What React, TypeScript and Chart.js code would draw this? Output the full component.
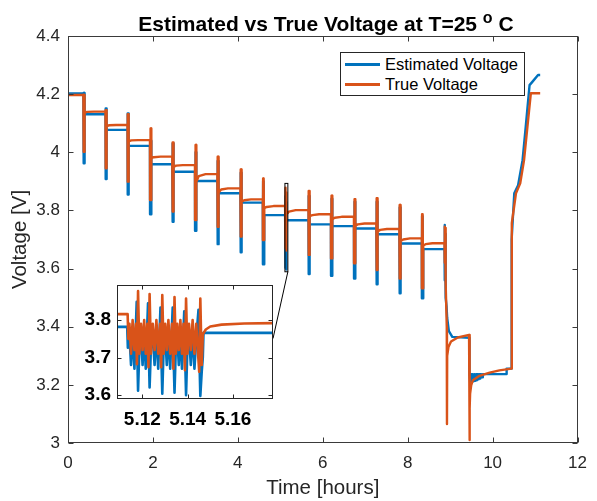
import React, { useEffect, useRef } from "react";
import { Chart, registerables } from "chart.js";

Chart.register(...registerables);

const FONT = '"Liberation Sans", Arial, Helvetica, sans-serif';
const BLUE = "#0072BD";
const ORANGE = "#D95319";
const AXIS = "#262626";

// ---- axes ----
const X_TICKS = [0, 2, 4, 6, 8, 10, 12];
const Y_TICKS = [3, 3.2, 3.4, 3.6, 3.8, 4, 4.2, 4.4];
const INSET_X_TICKS = [5.12, 5.14, 5.16];
const INSET_Y_TICKS = [3.6, 3.7, 3.8];
const INSET_X_RANGE = [5.1088, 5.1777];
const INSET_Y_RANGE = [3.589, 3.893];

// ---- main data (hours, volts) ----
const TRUE_START = 4.197;
const EST_START = 4.202;
const PULSE_START = [0.362, 0.883, 1.402, 1.93, 2.455, 2.99, 3.518, 4.06, 4.588, 5.113, 5.664, 6.192, 6.734, 7.262, 7.804, 8.332];
const TRUE_HIGH = [4.197, 4.145, 4.131, 4.082, 4.034, 4.025, 3.985, 3.941, 3.91, 3.878, 3.867, 3.851, 3.839, 3.842, 3.819, 3.787];
const TRUE_LOW = [4.002, 3.945, 3.899, 3.836, 3.796, 3.767, 3.744, 3.71, 3.698, 3.662, 3.647, 3.635, 3.618, 3.595, 3.566, 3.532];
const EST_HIGH = [4.204, 4.151, 4.134, 4.04, 4.03, 4.0, 3.97, 3.93, 3.9, 3.849, 3.85, 3.84, 3.83, 3.83, 3.81, 3.78];
const EST_LOW = [3.962, 3.908, 3.855, 3.787, 3.761, 3.73, 3.684, 3.656, 3.615, 3.597, 3.581, 3.575, 3.566, 3.546, 3.515, 3.498];
const TRUE_REST_START = [4.137, 4.09, 4.038, 3.98, 3.95, 3.899, 3.862, 3.83, 3.808, 3.774, 3.78, 3.77, 3.748, 3.728, 3.695, 3.678];
const TRUE_REST_MID = [4.139, 4.093, 4.041, 3.983, 3.954, 3.918, 3.872, 3.835, 3.812, 3.796, 3.784, 3.775, 3.752, 3.733, 3.7, 3.684];
const TRUE_REST = [4.14, 4.094, 4.042, 3.985, 3.956, 3.925, 3.876, 3.838, 3.815, 3.801, 3.787, 3.778, 3.755, 3.736, 3.704, 3.687];
const EST_REST = [4.131, 4.077, 4.022, 3.959, 3.933, 3.901, 3.859, 3.827, 3.784, 3.766, 3.752, 3.746, 3.738, 3.718, 3.686, 3.667];

const TAIL_TRUE_T = [8.867, 8.87, 8.876, 8.882, 8.888, 8.894, 8.9, 8.92, 8.925, 8.93, 8.96, 9.02, 9.18, 9.445, 9.456, 9.462, 9.47, 9.495, 9.535, 9.69, 9.93, 10.16, 10.445, 10.452, 10.55, 10.65, 10.74, 10.82, 10.9, 11.12];
const TAIL_TRUE_V = [3.687, 3.744, 3.62, 3.74, 3.6, 3.7, 3.55, 3.4, 3.065, 3.3, 3.33, 3.349, 3.363, 3.372, 3.01, 3.12, 3.17, 3.198, 3.216, 3.231, 3.242, 3.25, 3.256, 3.756, 3.859, 3.893, 3.973, 4.088, 4.203, 4.203];
const TAIL_EST_T = [8.867, 8.87, 8.876, 8.882, 8.888, 8.894, 8.9, 8.915, 8.93, 8.97, 9.05, 9.452, 9.456, 9.47, 9.49, 9.51, 9.53, 9.55, 9.57, 9.59, 9.61, 9.63, 9.65, 9.67, 9.69, 9.71, 9.73, 9.75, 9.77, 10.32, 10.33, 10.445, 10.448, 10.51, 10.6, 10.705, 10.78, 10.87, 10.94, 11.07, 11.12];
const TAIL_EST_V = [3.667, 3.75, 3.56, 3.72, 3.52, 3.66, 3.5, 3.47, 3.43, 3.385, 3.365, 3.362, 3.237, 3.21, 3.237, 3.211, 3.237, 3.212, 3.237, 3.214, 3.237, 3.216, 3.237, 3.219, 3.237, 3.222, 3.237, 3.226, 3.237, 3.237, 3.256, 3.256, 3.7, 3.859, 3.887, 3.973, 4.088, 4.231, 4.243, 4.266, 4.266];

// ---- inset data (pulse at ~5.11-5.15 h) ----
const INSET_TRUE_T = [
  5.1088, 5.1135, 5.1138,
  5.1143, 5.115, 5.1157, 5.1165, 5.1172, 5.1176, 5.1181, 5.1187,
  5.1194, 5.1201, 5.1208, 5.1215, 5.1222, 5.1227, 5.1232, 5.1238,
  5.1246, 5.1254, 5.1262, 5.127, 5.1278, 5.1283, 5.1288, 5.1294,
  5.1301, 5.1308, 5.1315, 5.1323, 5.1331, 5.1337, 5.1342, 5.1348,
  5.1354, 5.1361, 5.1368, 5.1375, 5.1382, 5.1388, 5.1393, 5.1399,
  5.1406, 5.1414, 5.1422, 5.143, 5.1438, 5.1445, 5.1451, 5.1456, 5.1462,
  5.1467, 5.148, 5.15, 5.155, 5.165, 5.1777,
];
const INSET_TRUE_V = [
  3.816, 3.816, 3.75,
  3.79, 3.71, 3.8, 3.72, 3.79, 3.682, 3.878, 3.71,
  3.79, 3.72, 3.8, 3.71, 3.79, 3.674, 3.87, 3.71,
  3.79, 3.72, 3.8, 3.71, 3.79, 3.674, 3.867, 3.71,
  3.79, 3.72, 3.8, 3.71, 3.79, 3.67, 3.862, 3.71,
  3.79, 3.72, 3.8, 3.71, 3.79, 3.666, 3.858, 3.71,
  3.79, 3.72, 3.8, 3.71, 3.79, 3.72, 3.662, 3.858, 3.68,
  3.762, 3.775, 3.783, 3.788, 3.791, 3.792,
];
const INSET_EST_T = [
  5.1088, 5.1133, 5.1136,
  5.1143, 5.115, 5.1157, 5.1165, 5.1175, 5.1178, 5.1181, 5.1187,
  5.1194, 5.1201, 5.1208, 5.1215, 5.1225, 5.1229, 5.1232, 5.1238,
  5.1246, 5.1254, 5.1262, 5.127, 5.128, 5.1284, 5.1288, 5.1294,
  5.1301, 5.1308, 5.1315, 5.1323, 5.1334, 5.1338, 5.1342, 5.1348,
  5.1354, 5.1361, 5.1368, 5.1375, 5.1385, 5.1389, 5.1393, 5.1399,
  5.1406, 5.1414, 5.1422, 5.143, 5.1438, 5.1448, 5.1452, 5.1456, 5.1462,
  5.1467, 5.147, 5.1777,
];
const INSET_EST_V = [
  3.782, 3.782, 3.726,
  3.76, 3.68, 3.77, 3.67, 3.849, 3.7, 3.611, 3.73,
  3.76, 3.68, 3.77, 3.67, 3.845, 3.7, 3.62, 3.73,
  3.76, 3.68, 3.77, 3.67, 3.834, 3.7, 3.603, 3.73,
  3.76, 3.68, 3.77, 3.67, 3.834, 3.7, 3.606, 3.73,
  3.76, 3.68, 3.77, 3.67, 3.824, 3.7, 3.599, 3.73,
  3.76, 3.68, 3.77, 3.67, 3.75, 3.828, 3.7, 3.597, 3.66,
  3.7, 3.766, 3.766,
];

// ---- layout constants ----
const W = 597;
const H = 501;
const MAIN_PAD = { top: 36, right: 13, left: 0, bottom: 0 };
const MAIN_Y_W = 68;
const MAIN_X_H = 58;
const INSET_BOX = { left: 70, top: 268, width: 215, height: 167 };
const INSET_PAD = { top: 10, right: 12, left: 0, bottom: 0 };
const INSET_Y_W = 47;
const INSET_X_H = 36;

const PULSE_STEPS = [0.002, 0.007, 0.012, 0.017, 0.022, 0.027, 0.031];
const PULSE_LEN = 0.034;
const INSET_PULSE = 9;

type P = { x: number; y: number };

function zip(t: number[], v: number[]): P[] {
  return t.map((x, i) => ({ x, y: v[i] }));
}

function buildSeries(isTrue: boolean): P[] {
  const hi = isTrue ? TRUE_HIGH : EST_HIGH;
  const lo = isTrue ? TRUE_LOW : EST_LOW;
  let level = isTrue ? TRUE_START : EST_START;
  const pts: P[] = [{ x: 0, y: level }];
  PULSE_START.forEach((t, i) => {
    pts.push({ x: t, y: level });
    if (i === INSET_PULSE) {
      const T = isTrue ? INSET_TRUE_T : INSET_EST_T;
      const V = isTrue ? INSET_TRUE_V : INSET_EST_V;
      T.forEach((tt, k) => {
        if (tt > t) pts.push({ x: tt, y: V[k] });
      });
    } else {
      PULSE_STEPS.forEach((dt, k) => pts.push({ x: t + dt, y: k % 2 === 0 ? lo[i] : hi[i] }));
      pts.push({ x: t + PULSE_LEN, y: isTrue ? TRUE_REST_START[i] : EST_REST[i] });
    }
    level = isTrue ? TRUE_REST[i] : EST_REST[i];
    if (isTrue) {
      pts.push({ x: t + 0.09, y: TRUE_REST_MID[i] });
      pts.push({ x: t + 0.25, y: level });
    }
  });
  const tail = isTrue ? zip(TAIL_TRUE_T, TAIL_TRUE_V) : zip(TAIL_EST_T, TAIL_EST_V);
  return pts.concat(tail);
}

function framePlugin(xTicks: number[], yTicks: number[], tickLen: number, color: string, extra?: (c: any) => void) {
  return {
    id: "frame",
    afterDatasetsDraw(chart: any) {
      const { ctx, chartArea: a, scales } = chart;
      const xs = scales.x;
      const ys = scales.y;
      ctx.save();
      ctx.strokeStyle = color;
      ctx.lineWidth = 1;
      const L = Math.round(a.left) + 0.5;
      const R = Math.round(a.right) - 0.5;
      const T = Math.round(a.top) + 0.5;
      const B = Math.round(a.bottom) - 0.5;
      ctx.strokeRect(L, T, R - L, B - T);
      ctx.beginPath();
      xTicks.forEach((v) => {
        const px = Math.round(xs.getPixelForValue(v)) + 0.5;
        ctx.moveTo(px, B);
        ctx.lineTo(px, B - tickLen);
        ctx.moveTo(px, T);
        ctx.lineTo(px, T + tickLen);
      });
      yTicks.forEach((v) => {
        const py = Math.round(ys.getPixelForValue(v)) + 0.5;
        ctx.moveTo(L, py);
        ctx.lineTo(L + tickLen, py);
        ctx.moveTo(R, py);
        ctx.lineTo(R - tickLen, py);
      });
      ctx.stroke();
      ctx.restore();
      if (extra) extra(chart);
    },
  };
}

const whiteBg = {
  id: "whiteBg",
  beforeDatasetsDraw(chart: any) {
    const { ctx, chartArea: a } = chart;
    ctx.save();
    ctx.fillStyle = "#fff";
    ctx.fillRect(a.left, a.top, a.right - a.left, a.bottom - a.top);
    ctx.restore();
  },
};

function zoomMarker(chart: any) {
  const { ctx, scales } = chart;
  const x1 = scales.x.getPixelForValue(INSET_X_RANGE[0]);
  const x2 = scales.x.getPixelForValue(INSET_X_RANGE[1]);
  const y1 = scales.y.getPixelForValue(INSET_Y_RANGE[1]);
  const y2 = scales.y.getPixelForValue(INSET_Y_RANGE[0]);
  const insetRight = INSET_BOX.left + INSET_BOX.width - INSET_PAD.right;
  const insetTop = INSET_BOX.top + INSET_PAD.top;
  const insetBottom = INSET_BOX.top + INSET_BOX.height - INSET_X_H;
  ctx.save();
  ctx.strokeStyle = "#000";
  ctx.lineWidth = 1;
  ctx.strokeRect(x1, y1, x2 - x1, y2 - y1);
  ctx.beginPath();
  ctx.moveTo(x2, y2);
  ctx.lineTo(insetRight, (insetTop + insetBottom) / 2);
  ctx.stroke();
  ctx.restore();
}

function lineDataset(label: string, data: P[], color: string, order: number, width: number) {
  return {
    label,
    data,
    borderColor: color,
    backgroundColor: color,
    borderWidth: width,
    pointRadius: 0,
    tension: 0,
    fill: false,
    order,
    borderJoinStyle: "round" as const,
  };
}

export default function App() {
  const mainRef = useRef<HTMLCanvasElement>(null);
  const insetRef = useRef<HTMLCanvasElement>(null);

  useEffect(() => {
    const tickFont = { family: FONT, size: 17 };
    const main = new Chart(mainRef.current!, {
      type: "line",
      data: {
        datasets: [
          lineDataset("Estimated Voltage", buildSeries(false), BLUE, 1, 2.4),
          lineDataset("True Voltage", buildSeries(true), ORANGE, 0, 2.4),
        ],
      },
      options: {
        animation: false,
        responsive: false,
        devicePixelRatio: 1,
        events: [],
        layout: { padding: MAIN_PAD },
        plugins: { legend: { display: false }, tooltip: { enabled: false } },
        scales: {
          x: {
            type: "linear",
            min: 0,
            max: 12,
            afterBuildTicks: (s: any) => {
              s.ticks = X_TICKS.map((value) => ({ value }));
            },
            afterFit: (s: any) => {
              s.height = MAIN_X_H;
            },
            grid: { display: false, drawTicks: false },
            border: { display: false },
            ticks: {
              font: tickFont,
              color: AXIS,
              padding: 10,
              maxRotation: 0,
              callback: (v: any) => String(v),
            },
            title: {
              display: true,
              text: "Time [hours]",
              font: { family: FONT, size: 20.5 },
              color: AXIS,
              padding: { top: 0, bottom: 0 },
            },
          },
          y: {
            type: "linear",
            min: 3,
            max: 4.4,
            afterBuildTicks: (s: any) => {
              s.ticks = Y_TICKS.map((value) => ({ value }));
            },
            afterFit: (s: any) => {
              s.width = MAIN_Y_W;
            },
            grid: { display: false, drawTicks: false },
            border: { display: false },
            ticks: {
              font: tickFont,
              color: AXIS,
              padding: 8,
              callback: (v: any) => String(parseFloat(Number(v).toFixed(2))),
            },
            title: {
              display: true,
              text: "Voltage [V]",
              font: { family: FONT, size: 20.5 },
              color: AXIS,
              padding: { top: 8, bottom: 0 },
            },
          },
        },
      },
      plugins: [framePlugin(X_TICKS, Y_TICKS, 5, "#3a3a3a", zoomMarker)],
    } as any);

    const insetFont = { family: FONT, size: 19, weight: "bold" as const };
    const inset = new Chart(insetRef.current!, {
      type: "line",
      data: {
        datasets: [
          lineDataset("Estimated Voltage", zip(INSET_EST_T, INSET_EST_V), BLUE, 1, 2.6),
          lineDataset("True Voltage", zip(INSET_TRUE_T, INSET_TRUE_V), ORANGE, 0, 2.6),
        ],
      },
      options: {
        animation: false,
        responsive: false,
        devicePixelRatio: 1,
        events: [],
        layout: { padding: INSET_PAD },
        plugins: { legend: { display: false }, tooltip: { enabled: false } },
        scales: {
          x: {
            type: "linear",
            min: INSET_X_RANGE[0],
            max: INSET_X_RANGE[1],
            afterBuildTicks: (s: any) => {
              s.ticks = INSET_X_TICKS.map((value) => ({ value }));
            },
            afterFit: (s: any) => {
              s.height = INSET_X_H;
            },
            grid: { display: false, drawTicks: false },
            border: { display: false },
            ticks: {
              font: insetFont,
              color: "#000",
              padding: 9,
              maxRotation: 0,
              autoSkip: false,
              callback: (v: any) => Number(v).toFixed(2),
            },
          },
          y: {
            type: "linear",
            min: INSET_Y_RANGE[0],
            max: INSET_Y_RANGE[1],
            afterBuildTicks: (s: any) => {
              s.ticks = INSET_Y_TICKS.map((value) => ({ value }));
            },
            afterFit: (s: any) => {
              s.width = INSET_Y_W;
            },
            grid: { display: false, drawTicks: false },
            border: { display: false },
            ticks: {
              font: insetFont,
              color: "#000",
              padding: 6,
              autoSkip: false,
              callback: (v: any) => Number(v).toFixed(1),
            },
          },
        },
      },
      plugins: [whiteBg, framePlugin(INSET_X_TICKS, INSET_Y_TICKS, 4, "#262626")],
    } as any);

    return () => {
      main.destroy();
      inset.destroy();
    };
  }, []);

  const legendRow = (color: string, text: string, top: number) => (
    <div style={{ position: "absolute", left: 0, top, height: 20, width: "100%" }}>
      <div style={{ position: "absolute", left: 4, top: 9, width: 35, height: 2.5, background: color }} />
      <div
        style={{
          position: "absolute",
          left: 44,
          top: 0,
          lineHeight: "20px",
          fontSize: 16.5,
          fontFamily: FONT,
          color: "#000",
          whiteSpace: "nowrap",
        }}
      >
        {text}
      </div>
    </div>
  );

  return (
    <div style={{ position: "absolute", left: 0, top: 0, width: W, height: H, background: "#fff", overflow: "hidden" }}>
      <canvas ref={mainRef} width={W} height={H} style={{ position: "absolute", left: 0, top: 0, width: W, height: H }} />
      <canvas
        ref={insetRef}
        width={INSET_BOX.width}
        height={INSET_BOX.height}
        style={{
          position: "absolute",
          left: INSET_BOX.left,
          top: INSET_BOX.top,
          width: INSET_BOX.width,
          height: INSET_BOX.height,
        }}
      />
      <div
        style={{
          position: "absolute",
          left: 0,
          top: 12,
          width: 652,
          textAlign: "center",
          fontFamily: FONT,
          fontWeight: "bold",
          fontSize: 21,
          lineHeight: "24px",
          color: "#000",
          whiteSpace: "nowrap",
        }}
      >
        Estimated vs True Voltage at T=25{" "}
        <span style={{ fontSize: 16, position: "relative", top: -8 }}>o</span> C
      </div>
      <div
        style={{
          position: "absolute",
          left: 340,
          top: 52,
          width: 185,
          height: 44,
          boxSizing: "border-box",
          border: "1px solid #262626",
          background: "#fff",
        }}
      >
        {legendRow(BLUE, "Estimated Voltage", 1)}
        {legendRow(ORANGE, "True Voltage", 21)}
      </div>
    </div>
  );
}
